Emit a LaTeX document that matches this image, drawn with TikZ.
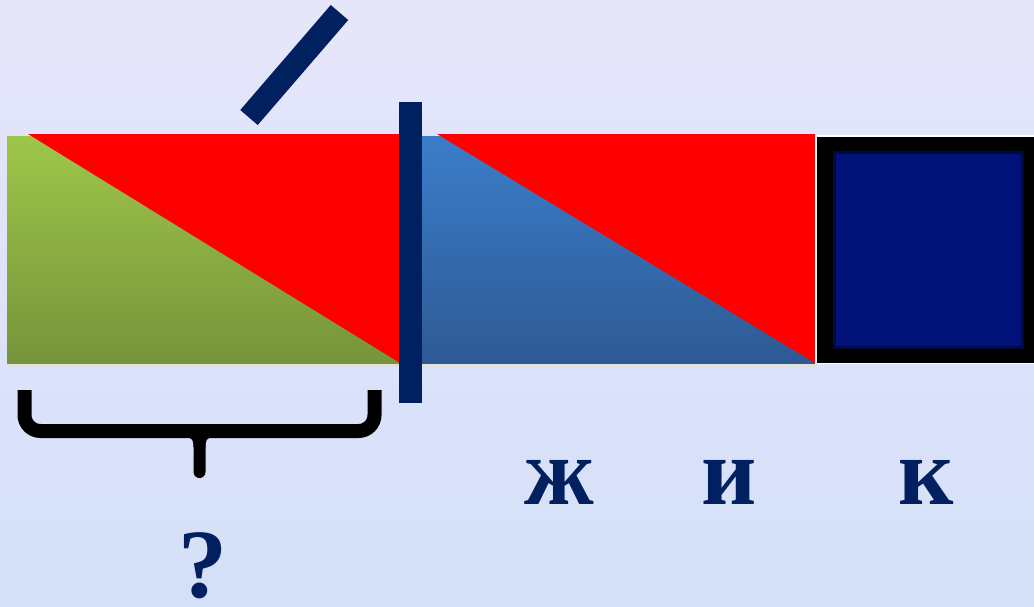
\documentclass[tikz,border=0pt]{standalone}
\usepackage{fontspec}
\setmainfont{Liberation Serif}
\usepackage{xcolor}
\usepackage{tikz}
\definecolor{SkyTopBg}  {HTML}{E6E6FA}
\definecolor{SkyLowBg}  {HTML}{D4E0F8}
\definecolor{LeafTop}   {HTML}{9EC64A}
\definecolor{LeafLow}   {HTML}{76943A}
\definecolor{BarTop}    {HTML}{3B7DCA}
\definecolor{BarLow}    {HTML}{2E5A94}
\definecolor{InkNavy}   {HTML}{002060}
\definecolor{BoxBlue}   {HTML}{001278}

\begin{document}
\begin{tikzpicture}[x=1pt,y=-1pt]
    \shade[top color=SkyTopBg,bottom color=SkyLowBg] (0,0) rectangle (1034,606);
    \useasboundingbox (0,0) rectangle (1034,606);
    % shadow under the strip
    \fill[black!12] (9,139) rectangle (817,367);
    % green part with red wedge
    \shade[top color=LeafTop,bottom color=LeafLow] (7,136) rectangle (400,363);
    \fill[red] (28,134) -- (400,134) -- (400,363) -- cycle;
    % blue part with red wedge
    \shade[top color=BarTop,bottom color=BarLow] (422,136) rectangle (815,363);
    \fill[red] (437,134) -- (815,134) -- (815,363) -- cycle;
    % dark square
    \fill[white] (815,135) rectangle (1034,364);
    \fill[black] (816.5,136.5) rectangle (1034,362.5);
    \fill[BoxBlue!55!black] (833,151) rectangle (1024,349);
    \fill[BoxBlue] (836,154) rectangle (1021,346);
    % divider and slash
    \fill[InkNavy] (399,102) rectangle (422,403);
    \draw[InkNavy,line width=23pt] (249,117.5) -- (339.5,12.5);
    % brace
    \draw[black,line width=14pt,rounded corners=16pt] (24.5,390) -- (24.5,431) -- (374.5,431) -- (374.5,390);
    \draw[black,line width=12pt,line cap=round] (183,431) .. controls (196,431) and (199.5,437) .. (199.5,447) -- (199.5,472);
    \draw[black,line width=12pt] (216,431) .. controls (203,431) and (199.5,437) .. (199.5,447);
    % labels
    \node[font=\fontsize{98}{98}\selectfont\bfseries,text=InkNavy,anchor=base,inner sep=0pt] (qmark) at (202.5,597) {?};
    \node[font=\fontsize{96}{96}\selectfont\bfseries,text=InkNavy,anchor=base,inner sep=0pt] (zhe) at (559,504) {ж};
    \node[font=\fontsize{96}{96}\selectfont\bfseries,text=InkNavy,anchor=base,inner sep=0pt] (ii) at (729,504) {и};
    \node[font=\fontsize{96}{96}\selectfont\bfseries,text=InkNavy,anchor=base,inner sep=0pt] (ka) at (926,504) {к};
  \end{tikzpicture}
\end{document}
